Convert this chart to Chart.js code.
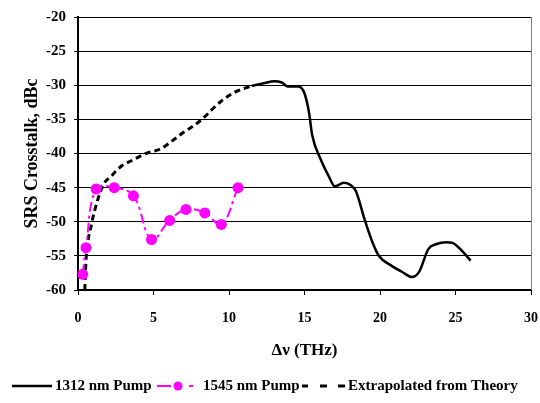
<!DOCTYPE html>
<html>
<head>
<meta charset="utf-8">
<script src="https://cdn.jsdelivr.net/npm/chart.js@4/dist/chart.umd.min.js"></script>
<style>
  html, body { margin: 0; padding: 0; background: #fff; }
  #wrap { width: 540px; height: 403px; position: relative; }
</style>
</head>
<body>
<div id="wrap"><canvas id="srsChart"></canvas></div>
<script>
// measured curves (THz, dBc)
const pump1312X = [11.5, 12.3, 13.0, 13.5, 13.9, 14.6, 15.0, 15.3, 15.5, 16.1, 16.6, 17.0, 17.6, 18.1, 18.4, 19.0, 19.5, 19.9, 20.8, 21.5, 22.1, 22.6, 23.2, 23.7, 24.4, 24.8, 25.4, 26.0];
const pump1312Y = [-30.1, -29.7, -29.4, -29.6, -30.2, -30.2, -31.2, -34.0, -37.2, -41.0, -43.3, -44.8, -44.3, -44.7, -45.5, -49.8, -53.0, -54.9, -56.5, -57.4, -58.1, -57.3, -54.0, -53.3, -53.0, -53.1, -54.2, -55.7];

const pump1545X = [0.31, 0.53, 1.2, 2.4, 3.67, 4.87, 6.07, 7.15, 8.4, 9.49, 10.6];
const pump1545Y = [-57.7, -53.8, -45.2, -45.0, -46.2, -52.6, -49.8, -48.2, -48.7, -50.4, -45.0];

const theoryX = [0.45, 0.5, 0.55, 0.9, 1.25, 1.7, 2.2, 2.9, 3.5, 4.5, 5.5, 6.2, 7.0, 8.1, 9.0, 9.5, 10.5, 11.5];
const theoryY = [-60.0, -57.0, -55.0, -50.3, -47.2, -44.5, -43.3, -41.8, -41.1, -40.0, -39.3, -38.2, -36.9, -35.2, -33.3, -32.3, -30.9, -30.1];

const yTicks = [-60, -55, -50, -45, -40, -35, -30, -25, -20];
const xTicks = [0, 5, 10, 15, 20, 25, 30];

const seriesNames = ['1312 nm Pump', '1545 nm Pump', 'Extrapolated from Theory'];

const zip = (xs, ys) => xs.map((x, i) => ({ x: x, y: ys[i] }));
const serif = "'Liberation Serif', 'Times New Roman', serif";

// legend + right border drawn by hand, Excel style
const excelBits = {
    id: 'excelBits',
    afterDraw(chart) {
        const ctx = chart.ctx;
        const a = chart.chartArea;
        ctx.save();
        ctx.strokeStyle = '#808080';
        ctx.lineWidth = 1;
        ctx.beginPath();
        ctx.moveTo(a.right + 0.5, a.top);
        ctx.lineTo(a.right + 0.5, a.bottom);
        ctx.stroke();

        const y = 386;
        ctx.font = 'bold 15px ' + serif;
        ctx.textBaseline = 'middle';
        ctx.fillStyle = '#000';

        // 1312
        ctx.strokeStyle = '#000';
        ctx.lineWidth = 2.5;
        ctx.beginPath(); ctx.moveTo(12, y); ctx.lineTo(52, y); ctx.stroke();
        ctx.fillText(seriesNames[0], 55, y);

        // 1545
        ctx.strokeStyle = '#ff00ff';
        ctx.lineWidth = 2;
        ctx.beginPath(); ctx.moveTo(157, y); ctx.lineTo(171, y); ctx.stroke();
        ctx.beginPath(); ctx.moveTo(189, y); ctx.lineTo(193, y); ctx.stroke();
        ctx.fillStyle = '#ff00ff';
        ctx.beginPath(); ctx.arc(178, y, 4.5, 0, Math.PI * 2); ctx.fill();
        ctx.fillStyle = '#000';
        ctx.fillText(seriesNames[1], 203, y);

        // theory
        ctx.strokeStyle = '#000';
        ctx.lineWidth = 3;
        [[302, 308], [320, 327], [338, 345]].forEach(s => {
            ctx.beginPath(); ctx.moveTo(s[0], y); ctx.lineTo(s[1], y); ctx.stroke();
        });
        ctx.fillText(seriesNames[2], 348, y);
        ctx.restore();
    }
};

new Chart(document.getElementById('srsChart'), {
    type: 'scatter',
    data: {
        datasets: [
            {
                label: seriesNames[0],
                data: zip(pump1312X, pump1312Y),
                showLine: true,
                borderColor: '#000',
                borderWidth: 2.5,
                pointRadius: 0,
                tension: 0.4,
                cubicInterpolationMode: 'monotone'
            },
            {
                label: seriesNames[1],
                data: zip(pump1545X, pump1545Y),
                showLine: true,
                borderColor: '#ff00ff',
                backgroundColor: '#ff00ff',
                borderWidth: 2,
                borderDash: [10, 4, 3, 4],
                pointRadius: 5.5,
                pointBorderWidth: 0,
                pointBackgroundColor: '#ff00ff',
                tension: 0.4
            },
            {
                label: seriesNames[2],
                data: zip(theoryX, theoryY),
                showLine: true,
                borderColor: '#000',
                borderWidth: 3,
                borderDash: [6, 4],
                pointRadius: 0,
                tension: 0.4,
                cubicInterpolationMode: 'monotone'
            }
        ]
    },
    options: {
        responsive: true,
        maintainAspectRatio: false,
        animation: false,
        layout: { padding: { left: 22, top: 16, right: 4, bottom: 38 } },
        scales: {
            x: {
                type: 'linear',
                min: 0,
                max: 30,
                afterBuildTicks: s => { s.ticks = xTicks.map(v => ({ value: v })); },
                afterFit: s => { s.height = 75; s.paddingRight = 9; s.paddingLeft = 0; },
                grid: { drawOnChartArea: false, drawTicks: true, tickLength: 5, color: '#000', lineWidth: 1 },
                border: { color: '#000', width: 2 },
                ticks: { color: '#000', font: { family: serif, size: 14, weight: 'bold' }, padding: 15, maxRotation: 0 },
                title: { display: true, text: 'Δν (THz)', color: '#000', font: { family: serif, size: 17, weight: 'bold' }, padding: { top: 15 } }
            },
            y: {
                min: -60,
                max: -20,
                afterBuildTicks: s => { s.ticks = yTicks.map(v => ({ value: v })); },
                afterFit: s => { s.width = 56; },
                grid: { color: '#000', lineWidth: 1, drawTicks: true, tickLength: 4 },
                border: { color: '#000', width: 2 },
                ticks: { color: '#000', font: { family: serif, size: 15, weight: 'bold' }, padding: 8 },
                title: { display: true, text: 'SRS Crosstalk, dBc', color: '#000', font: { family: serif, size: 18, weight: 'bold' }, padding: { top: 0, bottom: 0 } }
            }
        },
        plugins: {
            legend: { display: false },
            tooltip: { enabled: false }
        }
    },
    plugins: [excelBits]
});
</script>
</body>
</html>
